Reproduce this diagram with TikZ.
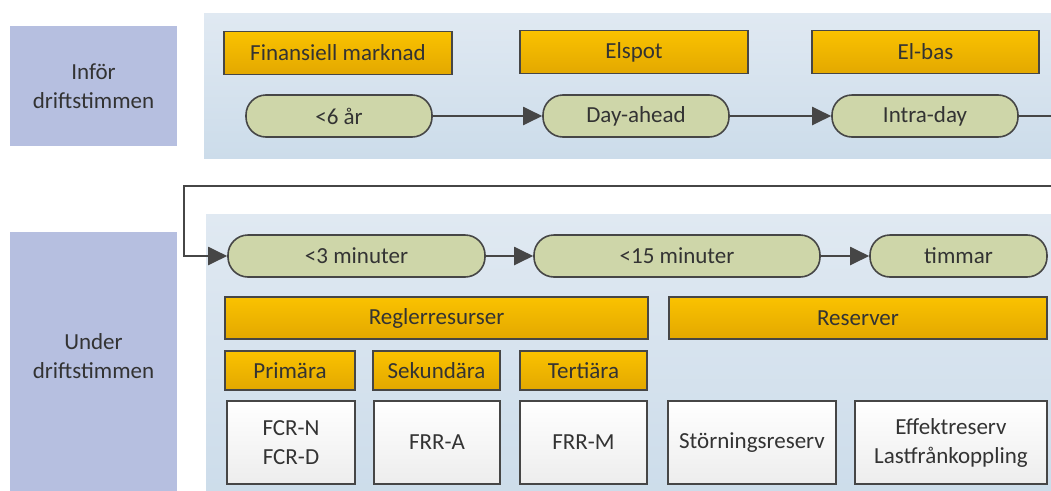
\documentclass[tikz,border=0pt]{standalone}
\usepackage{fontspec}
\setmainfont{Carlito}
\usetikzlibrary{arrows.meta}
\definecolor{txt}{HTML}{333333}
\definecolor{edge}{HTML}{464646}
\definecolor{lav}{HTML}{B6BFE0}
\definecolor{paneltop}{HTML}{E0E9F2}
\definecolor{panelbot}{HTML}{CCDCEA}
\definecolor{orgtop}{HTML}{FAC200}
\definecolor{orgbot}{HTML}{E3A800}
\definecolor{pill}{HTML}{CED6A9}
\definecolor{whitebot}{HTML}{EDEDED}
\begin{document}
\begin{tikzpicture}[x=1pt,y=-1pt,
  every node/.style={font=\fontsize{23}{29}\selectfont, text=txt, inner sep=0pt, align=center},
  sidebox/.style={fill=lav, draw=none},
  panel/.style={draw=none, top color=paneltop, bottom color=panelbot},
  orangebox/.style={draw=edge, line width=1.6pt, top color=orgtop, bottom color=orgbot, minimum height=#1},
  orangebox/.default=43pt,
  pillbox/.style={draw=edge, line width=1.6pt, fill=pill, rounded corners=20pt, minimum height=42pt},
  whitebox/.style={draw=edge, line width=1.6pt, top color=white, bottom color=whitebot, minimum height=83pt},
  conn/.style={draw=edge, line width=2pt, -{Triangle[length=19pt,width=18pt]}}
]
\useasboundingbox (0,0) rectangle (1051,490);
% panels and side labels
\fill[panel] (204,13) rectangle (1060,158);
\fill[panel] (206,214) rectangle (1060,500);
\node[sidebox, minimum width=167pt, minimum height=120pt] (infor) at (93.5,86) {Inför\\driftstimmen};
\fill[lav] (10,232) rectangle (177,500);
\node (under) at (93.5,356) {Under\\driftstimmen};
% top row
\node[orangebox, minimum width=228pt] (fin) at (338,53) {Finansiell marknad};
\node[orangebox, minimum width=228pt] (elspot) at (634,52) {Elspot};
\node[orangebox, minimum width=227pt] (elbas) at (925.5,52) {El-bas};
\node[pillbox, minimum width=186pt] (ar6) at (339,116) {<6 år};
\node[pillbox, minimum width=186pt] (dayahead) at (636,116) {Day-ahead};
\node[pillbox, minimum width=186pt] (intraday) at (925,116) {Intra-day};
% bottom row
\node[pillbox, minimum width=257pt] (min3) at (356.5,256) {<3 minuter};
\node[pillbox, minimum width=286pt] (min15) at (677,256) {<15 minuter};
\node[pillbox, minimum width=177pt] (timmar) at (958.5,256) {timmar};
\node[orangebox=42pt, minimum width=423pt] (regler) at (436.5,318) {Reglerresurser};
\node[orangebox=42pt, minimum width=378pt] (reserver) at (858,318) {Reserver};
\node[orangebox=39pt, minimum width=130pt] (prim) at (290,370.5) {Primära};
\node[orangebox=39pt, minimum width=127pt] (sek) at (436.5,370.5) {Sekundära};
\node[orangebox=39pt, minimum width=127pt] (ter) at (583.5,370.5) {Tertiära};
\node[whitebox, minimum width=128pt] (fcr) at (291,442.5) {FCR-N\\FCR-D};
\node[whitebox, minimum width=126pt] (frra) at (437,442.5) {FRR-A};
\node[whitebox, minimum width=127pt] (frrm) at (583.5,442.5) {FRR-M};
\node[whitebox, minimum width=168pt] (storn) at (752,442.5) {Störningsreserv};
\node[whitebox, minimum width=192pt] (effekt) at (951,442.5) {Effektreserv\\Lastfrånkoppling};
% connectors
\coordinate (outer) at (1070,186);
\coordinate (loopleft) at (184,186);
\draw[conn] (ar6) -- (dayahead);
\draw[conn] (dayahead) -- (intraday);
\draw[conn] (intraday.east) -| (outer) -- (loopleft) |- (min3.west);
\draw[conn] (min3) -- (min15);
\draw[conn] (min15) -- (timmar);
\end{tikzpicture}
\end{document}
